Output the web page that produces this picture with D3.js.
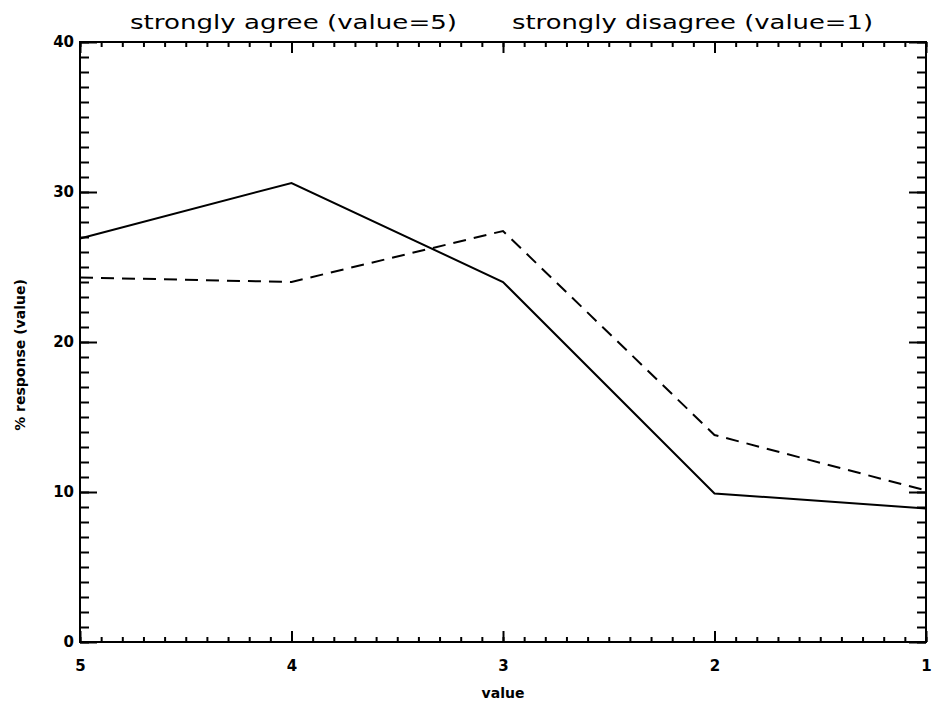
<!DOCTYPE html>
<html>
<head>
<meta charset="utf-8">
<script src="https://cdn.jsdelivr.net/npm/d3@7"></script>
<style>
body { margin: 0; background: #fff; }
text { font-family: "DejaVu Sans", sans-serif; fill: #000; }
</style>
</head>
<body>
<script>
// response values, x axis runs 5 -> 1
var values = [5, 4, 3, 2, 1];
var solidSeries = [26.9, 30.6, 24.0, 9.9, 8.9];
var dashedSeries = [24.3, 24.0, 27.4, 13.8, 10.1];
var xTicks = [5, 4, 3, 2, 1];
var yTicks = [0, 10, 20, 30, 40];
var titleLeft = "strongly agree (value=5)";
var titleRight = "strongly disagree (value=1)";
var xTitle = "value";
var yTitle = "% response (value)";

var width = 932;
var height = 708;
var plotL = 80, plotR = 926, plotT = 42, plotB = 642;

var svg = d3.select("body").append("svg")
	.attr("width", width)
	.attr("height", height);

var x = d3.scaleLinear().domain([5, 1]).range([plotL, plotR]);
var y = d3.scaleLinear().domain([0, 40]).range([plotB, plotT]);

var xMinor = d3.range(10, 51).map(function(d) { return d / 10; });
var yMinor = d3.range(0, 41);

function styleAxis(g) {
	g.select(".domain").remove();
	g.selectAll("line").attr("stroke", "#000").attr("stroke-width", 2);
	g.selectAll("text")
		.style("font-family", "'DejaVu Sans', sans-serif")
		.style("font-weight", "bold")
		.style("font-size", "15px")
		.attr("fill", "#000");
}

// minor ticks
svg.append("g").attr("transform", "translate(0," + plotB + ")")
	.call(d3.axisBottom(x).tickValues(xMinor).tickSize(-5).tickFormat(""))
	.call(styleAxis);
svg.append("g").attr("transform", "translate(0," + plotT + ")")
	.call(d3.axisTop(x).tickValues(xMinor).tickSize(-5).tickFormat(""))
	.call(styleAxis);
svg.append("g").attr("transform", "translate(" + plotL + ",0)")
	.call(d3.axisLeft(y).tickValues(yMinor).tickSize(-9).tickFormat(""))
	.call(styleAxis);
svg.append("g").attr("transform", "translate(" + plotR + ",0)")
	.call(d3.axisRight(y).tickValues(yMinor).tickSize(-9).tickFormat(""))
	.call(styleAxis);

// major ticks with labels
svg.append("g").attr("transform", "translate(0," + plotB + ")")
	.call(d3.axisBottom(x).tickValues(xTicks).tickSize(-11).tickPadding(18).tickFormat(d3.format("d")))
	.call(styleAxis);
svg.append("g").attr("transform", "translate(0," + plotT + ")")
	.call(d3.axisTop(x).tickValues(xTicks).tickSize(-11).tickFormat(""))
	.call(styleAxis);
svg.append("g").attr("transform", "translate(" + plotL + ",0)")
	.call(d3.axisLeft(y).tickValues(yTicks).tickSize(-17).tickPadding(6).tickFormat(d3.format("d")))
	.call(styleAxis);
svg.append("g").attr("transform", "translate(" + plotR + ",0)")
	.call(d3.axisRight(y).tickValues(yTicks).tickSize(-17).tickFormat(""))
	.call(styleAxis);

// frame
svg.append("rect")
	.attr("x", plotL).attr("y", plotT)
	.attr("width", plotR - plotL).attr("height", plotB - plotT)
	.attr("fill", "none").attr("stroke", "#000").attr("stroke-width", 2);

var line = d3.line()
	.x(function(d, i) { return x(values[i]); })
	.y(function(d) { return y(d); });

svg.append("path").datum(solidSeries)
	.attr("d", line)
	.attr("fill", "none").attr("stroke", "#000").attr("stroke-width", 2);

svg.append("path").datum(dashedSeries)
	.attr("d", line)
	.attr("fill", "none").attr("stroke", "#000").attr("stroke-width", 2)
	.attr("stroke-dasharray", "13,8");

// titles
svg.append("text").text(titleLeft)
	.attr("x", 130).attr("y", 29)
	.attr("textLength", 327).attr("lengthAdjust", "spacingAndGlyphs")
	.attr("font-size", "19px");
svg.append("text").text(titleRight)
	.attr("x", 512).attr("y", 29)
	.attr("textLength", 361).attr("lengthAdjust", "spacingAndGlyphs")
	.attr("font-size", "19px");

svg.append("text").text(xTitle)
	.attr("x", (plotL + plotR) / 2).attr("y", 698)
	.attr("text-anchor", "middle")
	.attr("font-size", "14px").attr("font-weight", "bold");

svg.append("text").text(yTitle)
	.attr("transform", "translate(25,355) rotate(-90)")
	.attr("text-anchor", "middle")
	.attr("font-size", "14px").attr("font-weight", "bold");
</script>
</body>
</html>
